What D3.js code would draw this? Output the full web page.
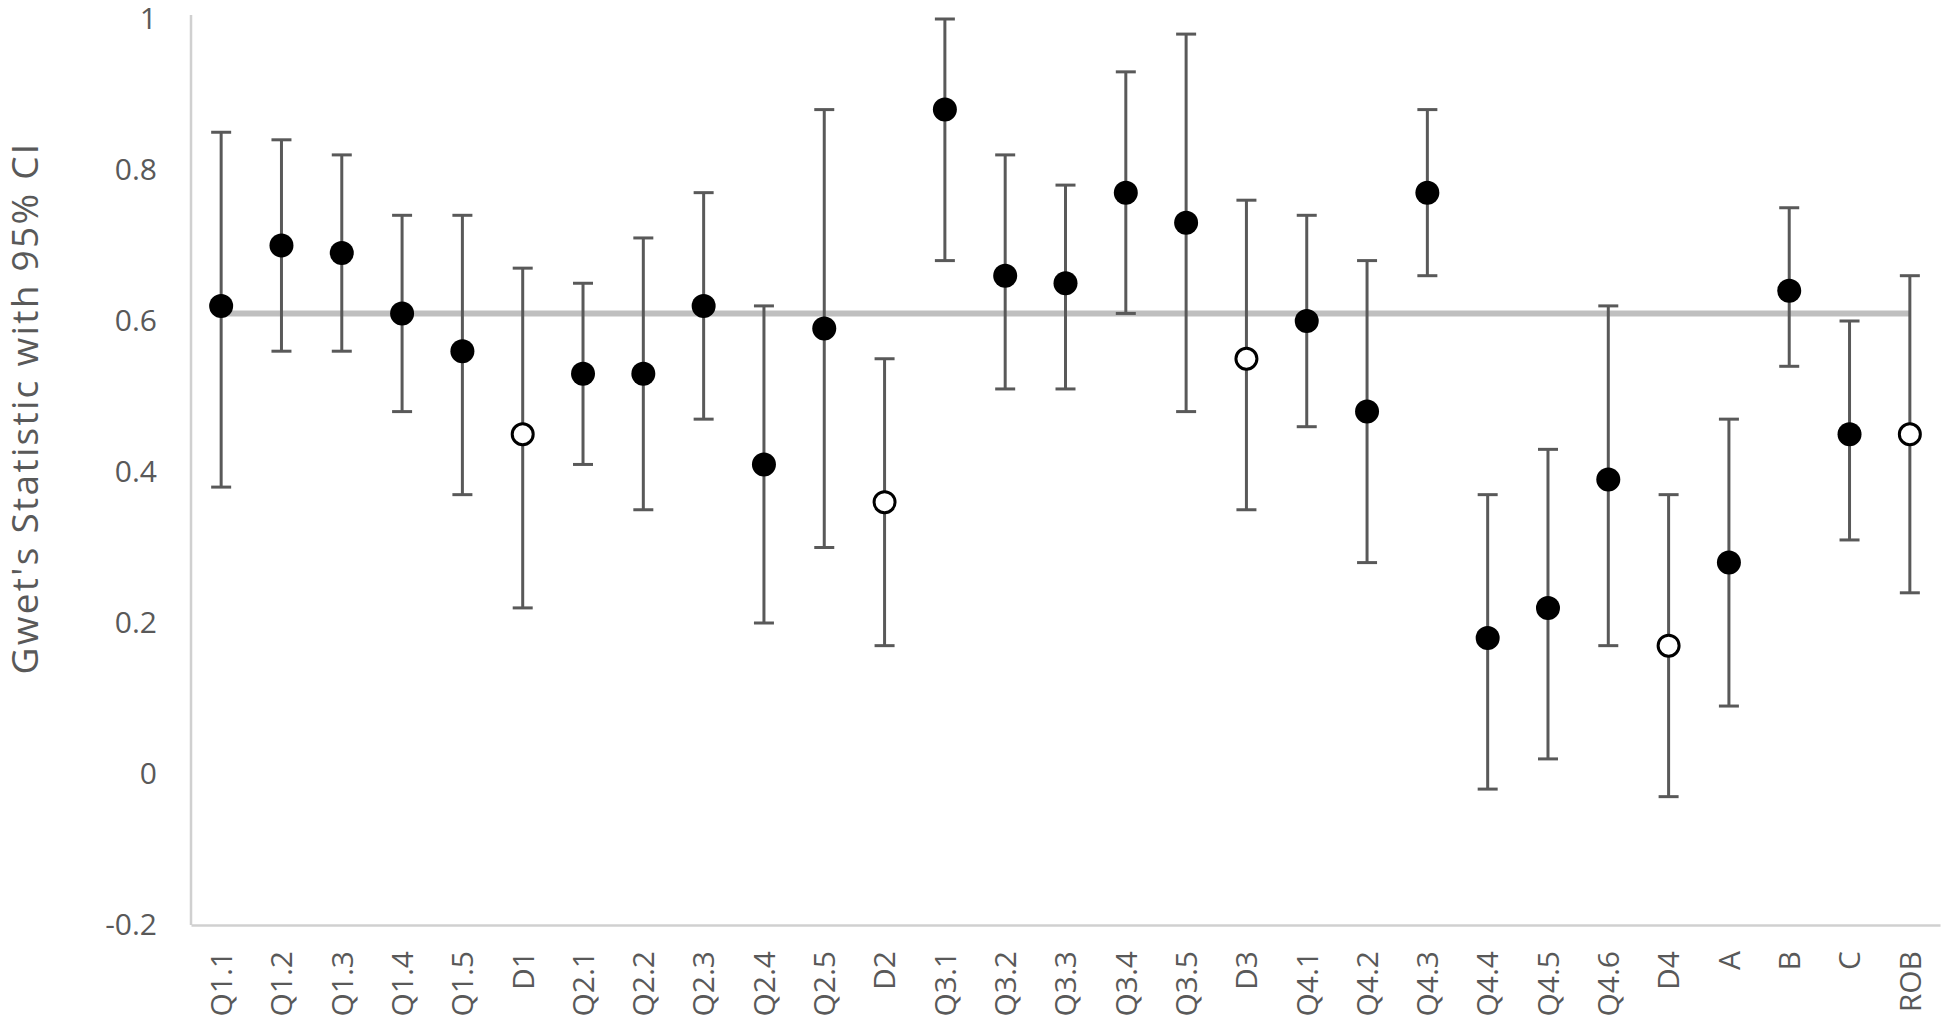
<!DOCTYPE html>
<html>
<head>
<meta charset="utf-8">
<script src="https://cdn.jsdelivr.net/npm/d3@7"></script>
<style>
  html, body { margin: 0; padding: 0; background: #fff; }
  svg text { font-family: "Open Sans", "Liberation Sans", sans-serif; fill: #595959; }
</style>
</head>
<body>
<svg id="chart"></svg>
<script>
const width = 1944;
const height = 1022;

// categories along the x axis
const categories = ["Q1.1", "Q1.2", "Q1.3", "Q1.4", "Q1.5", "D1", "Q2.1", "Q2.2", "Q2.3", "Q2.4", "Q2.5", "D2",
  "Q3.1", "Q3.2", "Q3.3", "Q3.4", "Q3.5", "D3", "Q4.1", "Q4.2", "Q4.3", "Q4.4", "Q4.5", "Q4.6", "D4",
  "A", "B", "C", "ROB"];

// Gwet's statistic and 95% CI bounds
const estimates = [0.62, 0.70, 0.69, 0.61, 0.56, 0.45, 0.53, 0.53, 0.62, 0.41, 0.59, 0.36,
  0.88, 0.66, 0.65, 0.77, 0.73, 0.55, 0.60, 0.48, 0.77, 0.18, 0.22, 0.39, 0.17,
  0.28, 0.64, 0.45, 0.45];
const upper = [0.85, 0.84, 0.82, 0.74, 0.74, 0.67, 0.65, 0.71, 0.77, 0.62, 0.88, 0.55,
  1.00, 0.82, 0.78, 0.93, 0.98, 0.76, 0.74, 0.68, 0.88, 0.37, 0.43, 0.62, 0.37,
  0.47, 0.75, 0.60, 0.66];
const lower = [0.38, 0.56, 0.56, 0.48, 0.37, 0.22, 0.41, 0.35, 0.47, 0.20, 0.30, 0.17,
  0.68, 0.51, 0.51, 0.61, 0.48, 0.35, 0.46, 0.28, 0.66, -0.02, 0.02, 0.17, -0.03,
  0.09, 0.54, 0.31, 0.24];

// categories drawn with hollow markers
const openMarkers = ["D1", "D2", "D3", "D4", "ROB"];

// overall reference level (grey line)
const referenceValue = 0.61;

const yTicks = [-0.2, 0, 0.2, 0.4, 0.6, 0.8, 1];
const yTitle = "Gwet's Statistic with 95% CI";

const rows = categories.map((c, i) => ({
  cat: c, est: estimates[i], lo: lower[i], hi: upper[i], open: openMarkers.includes(c)
}));

const margin = { left: 191, right: 4, top: 19, bottom: 97 };

const svg = d3.select("#chart")
  .attr("width", width)
  .attr("height", height);

const x = d3.scaleBand()
  .domain(categories)
  .range([margin.left, width - margin.right])
  .padding(0);

const y = d3.scaleLinear()
  .domain([-0.2, 1])
  .range([height - margin.bottom, margin.top]);

const cx = d => x(d) + x.bandwidth() / 2;

// axes
const yAxis = svg.append("g")
  .attr("transform", `translate(${margin.left},0)`)
  .call(d3.axisLeft(y).tickValues(yTicks).tickSize(0).tickPadding(34)
    .tickFormat(d => String(+d.toFixed(1))));
yAxis.select(".domain").attr("stroke", "#d0d0d0").attr("stroke-width", 2.5)
  .attr("d", `M0,${margin.top - 4}V${height - margin.bottom}`);
yAxis.selectAll("text").attr("font-size", 30).style("fill", "#595959");

const xAxis = svg.append("g")
  .attr("transform", `translate(0,${height - margin.bottom})`)
  .call(d3.axisBottom(x).tickSize(0));
xAxis.select(".domain").attr("stroke", "#d0d0d0").attr("stroke-width", 2.5);
xAxis.selectAll("text")
  .attr("font-size", 30)
  .attr("text-anchor", "end")
  .attr("transform", "rotate(-90)")
  .attr("x", -26)
  .attr("y", 0)
  .attr("dy", "0.36em")
  .style("fill", "#595959");

// y axis title
svg.append("text")
  .attr("transform", "translate(25,408) rotate(-90)")
  .attr("text-anchor", "middle")
  .attr("dy", "0.35em")
  .attr("font-size", 37)
  .attr("letter-spacing", 2.3)
  .text(yTitle);

// reference line
svg.append("line")
  .attr("x1", cx(categories[0]))
  .attr("x2", cx(categories[categories.length - 1]))
  .attr("y1", y(referenceValue))
  .attr("y2", y(referenceValue))
  .attr("stroke", "#bfbfbf")
  .attr("stroke-width", 6);

// error bars
const bars = svg.append("g")
  .attr("stroke", "#595959")
  .attr("stroke-width", 3)
  .selectAll("g")
  .data(rows)
  .join("g");

bars.append("line")
  .attr("x1", d => cx(d.cat)).attr("x2", d => cx(d.cat))
  .attr("y1", d => y(d.lo)).attr("y2", d => y(d.hi));
bars.append("line")
  .attr("x1", d => cx(d.cat) - 10).attr("x2", d => cx(d.cat) + 10)
  .attr("y1", d => y(d.hi)).attr("y2", d => y(d.hi));
bars.append("line")
  .attr("x1", d => cx(d.cat) - 10).attr("x2", d => cx(d.cat) + 10)
  .attr("y1", d => y(d.lo)).attr("y2", d => y(d.lo));

// markers
svg.append("g")
  .selectAll("circle")
  .data(rows)
  .join("circle")
  .attr("cx", d => cx(d.cat))
  .attr("cy", d => y(d.est))
  .attr("r", d => d.open ? 10.5 : 12)
  .attr("fill", d => d.open ? "#fff" : "#000")
  .attr("stroke", d => d.open ? "#000" : "none")
  .attr("stroke-width", 3);
</script>
</body>
</html>
